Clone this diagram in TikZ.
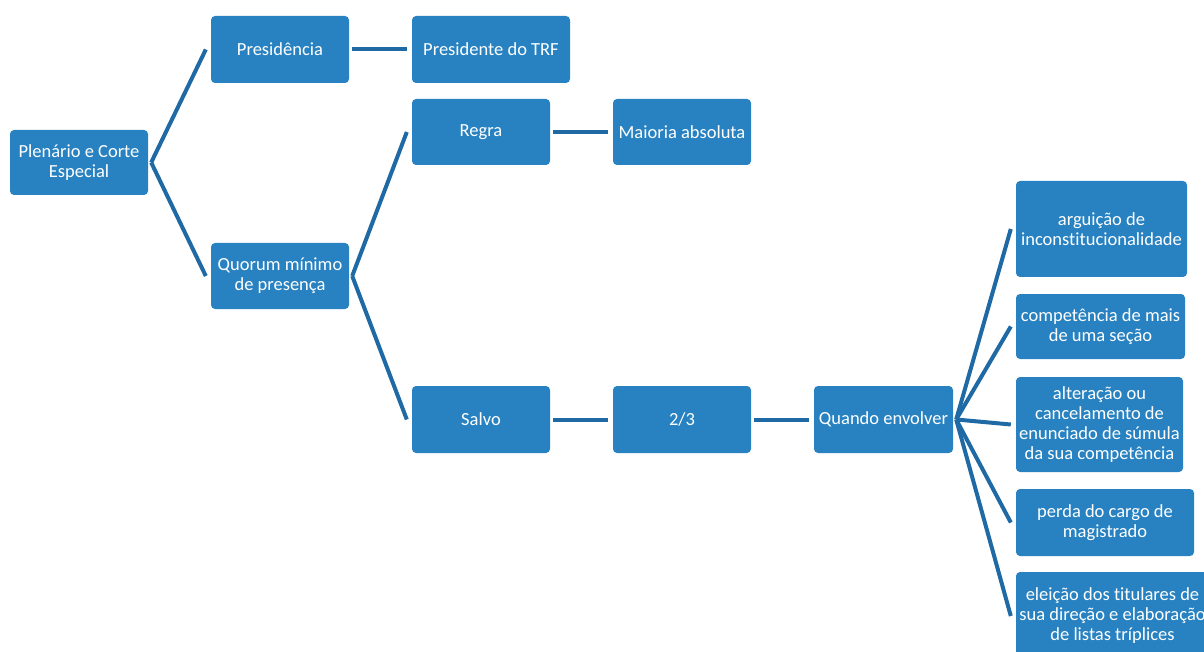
\documentclass[tikz,border=0pt]{standalone}
\usepackage{fontspec}
\setmainfont{Carlito}[Ligatures={NoCommon,NoRare}]
\definecolor{boxblue}{RGB}{40,130,193}
\definecolor{linkblue}{RGB}{31,106,165}
\begin{document}
\begin{tikzpicture}[x=1pt,y=-1pt,
  box/.style={fill=boxblue,draw=none,rounded corners=4pt,text=white,align=center,
    inner sep=0pt,font=\fontsize{18.5}{20}\selectfont},
  link/.style={draw=linkblue,line width=4pt}]
\useasboundingbox (0,0) rectangle (1204,652);
\clip (0,0) rectangle (1204,652);

% tree nodes, column by column
\node[box,minimum width=138pt,minimum height=65pt] (plen) at (79,162.5) {Plenário e Corte\\Especial};

\node[box,minimum width=138pt,minimum height=67pt] (pres) at (280,49.5) {Presidência};
\node[box,minimum width=138pt,minimum height=66pt] (quor) at (280,276) {Quorum mínimo\\de presença};

\node[box,minimum width=158pt,minimum height=67pt] (ptrf) at (491,49.5) {Presidente do TRF};
\node[box,minimum width=138pt,minimum height=66pt] (regra) at (481,132) {Regra};
\node[box,minimum width=138pt,minimum height=67pt] (salvo) at (481,419.5) {Salvo};

\node[box,minimum width=138pt,minimum height=66pt] (maior) at (682,132) {Maioria absoluta};
\node[box,minimum width=138pt,minimum height=67pt] (dois) at (682,419.5) {2/3};

\node[box,minimum width=139pt,minimum height=67pt] (quando) at (883.5,419.5) {Quando envolver};

\node[box,minimum width=171pt,minimum height=96pt] (argu) at (1101.5,229) {arguição de\\inconstitucionalidade};
\node[box,minimum width=169pt,minimum height=65pt] (comp) at (1100.5,326.5) {competência de mais\\de uma seção};
\node[box,minimum width=167pt,minimum height=95pt] (alter) at (1099.5,424.5) {alteração ou\\cancelamento de\\enunciado de súmula\\da sua competência};
\node[box,minimum width=178pt,minimum height=67pt] (perda) at (1105,522.5) {perda do cargo de\\magistrado};
\node[box,minimum width=193pt,minimum height=88pt] (elei) at (1112.5,616) {eleição dos titulares de\\sua direção e elaboração\\de listas tríplices};

% connectors: parent's right side to child's left side
\foreach \p/\c in {plen/pres,plen/quor,pres/ptrf,quor/regra,quor/salvo,regra/maior,
                   salvo/dois,dois/quando,quando/argu,quando/comp,quando/alter,
                   quando/perda,quando/elei}
  \draw[link] ([xshift=3pt]\p.east) -- ([xshift=-5pt]\c.west);
\end{tikzpicture}
\end{document}
